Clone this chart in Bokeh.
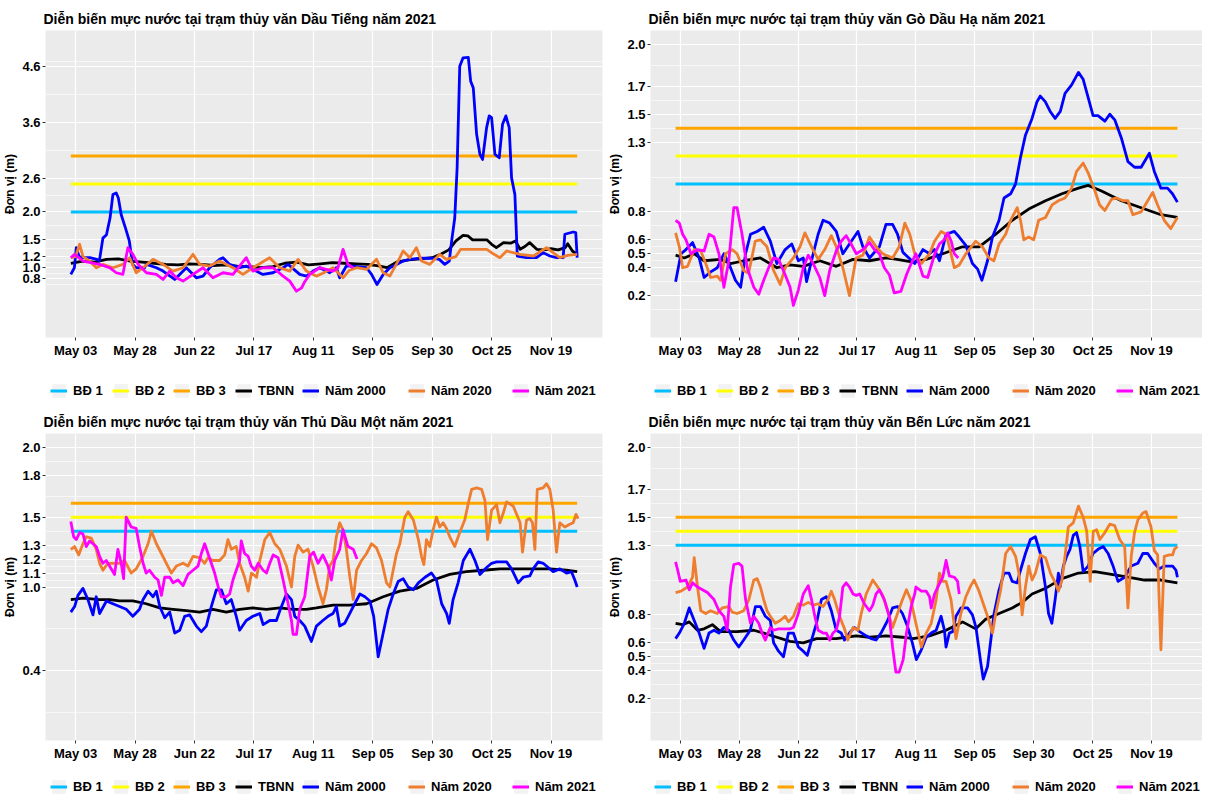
import numpy as np
import pandas as pd
from bokeh.plotting import figure
from bokeh.layouts import gridplot
from bokeh.models import Range1d, FixedTicker, DatetimeTickFormatter, Legend, LegendItem, PrintfTickFormatter
from bokeh.embed import file_html
from bokeh.resources import INLINE

# ---------------- data ----------------
START_DATE = "2021-05-01"
END_DATE = "2021-11-30"
X_TICK_DATES = ["2021-05-03", "2021-05-28", "2021-06-22", "2021-07-17", "2021-08-11",
                "2021-09-05", "2021-09-30", "2021-10-25", "2021-11-19"]
LEGEND_LABELS = ["BĐ 1", "BĐ 2", "BĐ 3", "TBNN", "Năm 2000", "Năm 2020", "Năm 2021"]

TITLES = ["Diễn biến mực nước tại trạm thủy văn Dầu Tiếng năm 2021",
          "Diễn biến mực nước tại trạm thủy văn Gò Dầu Hạ năm 2021",
          "Diễn biến mực nước tại trạm thủy văn Thủ Dầu Một năm 2021",
          "Diễn biến mực nước tại trạm thủy văn Bến Lức năm 2021"]

# alarm levels (BĐ 1, BĐ 2, BĐ 3)
DT_BD = [2.0, 2.5, 3.0]
GDH_BD = [1.0, 1.2, 1.4]
TDM_BD = [1.4, 1.5, 1.6]
BL_BD = [1.3, 1.4, 1.5]

# y-axis breaks and limits
DT_YTICKS = [0.8, 1.0, 1.2, 1.5, 2.0, 2.6, 3.6, 4.6]
GDH_YTICKS = [0.2, 0.4, 0.5, 0.6, 0.8, 1.3, 1.5, 1.7, 2.0]
TDM_YTICKS = [0.4, 1.0, 1.1, 1.2, 1.3, 1.5, 1.8, 2.0]
BL_YTICKS = [0.2, 0.4, 0.5, 0.6, 0.8, 1.3, 1.5, 1.7, 2.0]
DT_YLIM = [0, 5]
GDH_YLIM = [0, 2]
TDM_YLIM = [0, 2]
BL_YLIM = [0, 2]

# series: (days after 1 May, water level m)
DT_TBNN = [(0,1.08),(5,1.12),(10,1.1),(15,1.15),(20,1.16),(25,1.12),(30,1.1),(35,1.08),(40,1.06),(45,1.05),(50,1.07),(55,1.06),(60,1.04),(65,1.05),(70,1.03),(75,1.02),(80,1.0),(85,1.02),(90,1.08),(95,1.1),(100,1.05),(105,1.07),(110,1.09),(115,1.08),(120,1.07),(125,1.06),(130,1.03),(133,1.0),(137,1.1),(142,1.14),(147,1.16),(152,1.18),(156,1.25),(159,1.32),(162,1.48),(165,1.58),(167,1.57),(169,1.5),(172,1.5),(175,1.5),(177,1.42),(179,1.36),(182,1.45),(185,1.44),(187,1.48),(189,1.33),(191,1.38),(193,1.45),(196,1.33),(199,1.32),(202,1.34),(205,1.32),(208,1.36),(209,1.43),(211,1.3),(213,1.24)]
DT_2000 = [(0,0.88),(1.5,1.0),(2.3,1.36),(3.5,1.2),(5,1.18),(8,1.18),(11,1.15),(12,1.12),(13.5,1.53),(15,1.59),(16.5,1.89),(17.7,2.31),(19.1,2.34),(20,2.25),(21.2,1.95),(23,1.71),(24.6,1.48),(26,1.06),(27.5,1.0),(31,1.0),(31.8,1.06),(36,1.0),(38.8,0.94),(43.7,0.79),(45.8,0.88),(48.6,1.0),(52.8,0.82),(55.6,0.85),(58.4,1.0),(62.6,1.15),(64,1.18),(66.8,1.06),(71,1.0),(73.8,1.03),(80.8,0.88),(85,0.91),(89.3,1.0),(91.4,1.06),(96.3,0.88),(99.1,0.85),(101.9,0.94),(104.7,1.0),(108.9,0.91),(111.7,1.0),(113.1,0.82),(115.9,1.03),(118.7,1.03),(124.4,1.0),(126.5,0.88),(128.8,0.7),(131.4,0.88),(134.2,1.0),(137,1.06),(139.8,1.12),(142.6,1.15),(146.8,1.17),(152.4,1.17),(155,1.15),(157.3,1.06),(159.2,1.12),(160.2,1.48),(161.5,1.89),(162.5,2.79),(163.6,4.61),(165,4.76),(167.2,4.77),(168.2,4.34),(169.3,4.22),(170.7,3.39),(172.1,3.03),(173.2,2.94),(174.9,3.51),(176,3.72),(177,3.69),(178.4,3.03),(180.2,2.97),(181.6,3.57),(183,3.72),(184.4,3.51),(185.4,2.61),(186.8,2.31),(187.8,1.21),(191.7,1.18),(195.9,1.18),(198.7,1.27),(201.5,1.21),(204.3,1.18),(207.1,1.18),(207.8,1.6),(211.3,1.64),(212.4,1.63),(213,1.18)]
DT_2020 = [(0,1.18),(2,1.2),(3.7,1.42),(5.1,1.2),(7.9,1.12),(10.7,1.0),(13.5,1.06),(17.7,1.0),(21.9,1.06),(24.7,1.18),(27.5,0.91),(30.4,1.0),(34.6,1.15),(38.8,1.06),(43,0.94),(47.2,1.0),(51.4,1.24),(54.2,1.06),(58.4,1.03),(62.6,1.12),(68.2,1.0),(72.4,0.88),(76.6,1.0),(83.6,1.18),(87.9,1.0),(92.1,0.94),(95.6,1.15),(99.1,0.94),(101.9,0.88),(103.3,0.85),(106,0.9),(110.3,1.0),(114.5,0.82),(117,0.95),(120.2,1.0),(124.4,0.97),(128.6,1.15),(131.4,0.91),(134.2,0.85),(138.4,1.18),(139.8,1.3),(142.6,1.18),(145.4,1.36),(147.5,1.12),(151,1.06),(155.2,1.24),(158,1.15),(162,1.2),(164,1.33),(170,1.33),(175,1.33),(178,1.24),(180.5,1.18),(183.3,1.3),(189,1.24),(194.6,1.21),(200.1,1.36),(205.7,1.18),(209,1.22),(213,1.24)]
DT_2021 = [(0,1.18),(1.6,1.24),(5.1,1.12),(12.1,1.06),(16.3,1.0),(19.1,0.91),(21.9,0.88),(24,1.36),(26.1,1.24),(28.3,1.06),(31.8,0.91),(36,0.88),(38.8,0.79),(41.6,0.94),(44.4,0.82),(47.2,0.76),(51.4,0.88),(55.6,1.0),(59.8,0.82),(64,0.91),(68.2,0.88),(73.8,1.18),(76.6,0.94),(80.9,1.0),(85.1,1.0),(89.3,0.85),(92.1,0.76),(94.9,0.58),(97.1,0.64),(98.4,0.75),(100.5,0.88),(104.7,1.0),(110.3,0.94),(112.4,1.0),(114.5,1.33),(116.6,1.06),(118.7,1.0)]

GDH_TBNN = [(0,0.49),(3.7,0.47),(8,0.5),(12.1,0.45),(19.1,0.46),(23.3,0.43),(29,0.45),(36,0.47),(43,0.4),(48.6,0.42),(54.2,0.41),(61.2,0.45),(68.2,0.41),(75.3,0.46),(82.3,0.45),(89.3,0.47),(94,0.46),(100.8,0.44),(106.4,0.46),(113.4,0.5),(121.8,0.55),(128.8,0.55),(135.9,0.64),(142.9,0.74),(149.9,0.82),(157,0.88),(164,0.93),(171,0.97),(175.1,0.99),(180.8,0.95),(189.2,0.88),(197.6,0.83),(206,0.78),(213,0.76)]
GDH_2000 = [(0,0.3),(2.3,0.5),(4.4,0.53),(7.2,0.58),(10,0.47),(12.1,0.33),(14.9,0.37),(17.7,0.4),(20.5,0.5),(22.6,0.43),(25.4,0.31),(27.6,0.26),(29.7,0.5),(31.8,0.64),(34.6,0.66),(37.4,0.69),(40.2,0.59),(43,0.43),(46.5,0.53),(49.3,0.57),(52.1,0.45),(54.2,0.47),(55.6,0.3),(58.4,0.5),(60.5,0.64),(62.6,0.74),(65.4,0.72),(68.2,0.66),(71,0.5),(73.8,0.57),(77.4,0.66),(79.5,0.55),(82.3,0.47),(86.5,0.55),(89.3,0.71),(92.1,0.71),(94.2,0.64),(96.5,0.51),(101.5,0.43),(105,0.53),(107.8,0.5),(109.9,0.53),(112,0.45),(114.8,0.64),(118.3,0.66),(120.4,0.62),(123.2,0.56),(126,0.43),(128.2,0.39),(130,0.31),(132.4,0.45),(134.5,0.62),(137.3,0.74),(139.4,0.9),(142.2,0.93),(144.3,1.0),(146.4,1.19),(148.5,1.35),(151.3,1.47),(153.4,1.59),(154.8,1.63),(156.9,1.59),(159,1.52),(161.1,1.47),(163.3,1.52),(165.3,1.65),(168.1,1.71),(171,1.8),(173,1.75),(175.1,1.62),(177.2,1.49),(179.3,1.49),(182.2,1.45),(184.3,1.5),(186.4,1.46),(189.2,1.33),(192,1.16),(194.8,1.12),(197.6,1.12),(201.1,1.22),(203.2,1.09),(206,0.97),(208.8,0.97),(210.9,0.93),(213,0.87)]
GDH_2020 = [(0,0.65),(1.6,0.55),(3,0.4),(5.1,0.41),(7.9,0.53),(10.7,0.52),(12.8,0.43),(14.9,0.33),(17.7,0.34),(19.1,0.31),(21.2,0.5),(24,0.53),(26.1,0.5),(28.9,0.38),(31,0.36),(33.8,0.59),(36,0.6),(38.8,0.55),(41.6,0.38),(44.4,0.28),(46.5,0.4),(50,0.47),(52.8,0.55),(54.9,0.65),(57.7,0.55),(60.5,0.46),(63.3,0.53),(66.1,0.63),(68.2,0.55),(71,0.4),(73.8,0.2),(76.6,0.47),(79.5,0.49),(82.3,0.62),(85.1,0.55),(87.9,0.5),(92.1,0.47),(94.9,0.55),(97.3,0.72),(99.4,0.64),(101.5,0.5),(104.3,0.43),(107.8,0.5),(109.9,0.59),(112.7,0.66),(114.8,0.64),(116.2,0.55),(118.3,0.4),(120.4,0.42),(123.2,0.5),(127.4,0.59),(130.2,0.55),(133,0.47),(135.1,0.45),(137.3,0.57),(140.1,0.64),(142.2,0.74),(145,0.83),(146.4,0.74),(147.8,0.6),(149.9,0.62),(152,0.6),(154.1,0.74),(157,0.76),(159.8,0.85),(162.5,0.88),(165.3,0.9),(168.1,0.97),(170.2,1.09),(173,1.15),(175.1,1.08),(178,0.95),(180,0.85),(182.2,0.81),(185,0.89),(187.1,0.9),(189.9,0.88),(192,0.88),(194.1,0.78),(197.6,0.8),(200.4,0.88),(202.5,0.94),(204.6,0.85),(207.4,0.74),(210.2,0.68),(213,0.76)]
GDH_2021 = [(0,0.74),(1.6,0.72),(3,0.64),(4.4,0.6),(6.5,0.5),(9.3,0.53),(12.1,0.52),(14.2,0.64),(16.3,0.62),(18.4,0.5),(20.5,0.26),(22.6,0.45),(24.7,0.83),(26.1,0.83),(28.2,0.64),(30.4,0.4),(33.2,0.26),(35.3,0.21),(37.4,0.31),(39.5,0.4),(41.6,0.47),(43.7,0.46),(46.5,0.35),(48.6,0.26),(50,0.13),(52.1,0.24),(54.2,0.4),(56.3,0.49),(58.4,0.43),(61.2,0.33),(63.3,0.2),(65.4,0.38),(68.2,0.52),(70.3,0.59),(72.4,0.63),(74.5,0.57),(76.7,0.5),(79.5,0.53),(82.3,0.58),(84.4,0.53),(86.5,0.5),(88.6,0.4),(90.7,0.35),(92.8,0.22),(95.6,0.23),(98,0.35),(100,0.43),(102,0.5),(105,0.34),(107,0.33),(110,0.5),(112,0.57),(114,0.6),(115.5,0.65),(117,0.59),(118.3,0.5),(120,0.47)]

TDM_TBNN = [(0,0.91),(5.1,0.92),(12.1,0.91),(16.3,0.91),(20.5,0.9),(26.1,0.9),(31.7,0.88),(37.4,0.85),(43,0.84),(48.6,0.83),(54.2,0.82),(59.8,0.84),(65.4,0.82),(71,0.84),(76.6,0.85),(82.3,0.84),(87.9,0.85),(93.5,0.84),(99.1,0.84),(103.3,0.85),(110.3,0.87),(117.3,0.87),(124.4,0.88),(131.4,0.93),(138.4,0.97),(145.4,0.99),(152.4,1.05),(159.4,1.09),(166.4,1.11),(173.5,1.12),(180.5,1.13),(187.5,1.13),(194.5,1.13),(201.5,1.13),(208.5,1.12),(213,1.11)]
TDM_2000 = [(0,0.82),(1.6,0.86),(3,0.94),(5.1,0.99),(7.2,0.91),(9.3,0.8),(10.7,0.93),(12.1,0.81),(15,0.9),(17.7,0.88),(20.5,0.86),(23.3,0.84),(26.1,0.79),(28.9,0.84),(30.4,0.91),(32.5,0.97),(34.6,0.93),(36,0.97),(37.4,0.86),(39.5,0.78),(41.6,0.82),(43.7,0.67),(45.8,0.69),(47.9,0.79),(50,0.8),(52.8,0.72),(54.9,0.68),(57,0.72),(59.1,0.86),(61.2,0.98),(63.3,0.98),(65.4,0.88),(67.5,0.91),(69.6,0.79),(71,0.69),(73.8,0.76),(76.6,0.79),(79.5,0.81),(80.9,0.73),(83.7,0.76),(86.5,0.76),(87.9,0.83),(90.7,0.95),(92.8,0.91),(94.2,0.79),(96.3,0.76),(98.4,0.72),(101.2,0.61),(103.3,0.72),(106,0.76),(108.2,0.79),(110.3,0.81),(111.7,0.86),(113.1,0.72),(115.2,0.74),(117.3,0.81),(119.4,0.88),(121.6,0.95),(123.7,0.93),(125.8,0.9),(127.4,0.79),(129.3,0.5),(131.4,0.67),(133.5,0.84),(135.6,0.95),(137.7,1.04),(139.8,1.06),(141.9,1.0),(144.1,0.98),(146.2,1.03),(149,1.07),(151.7,1.1),(153.8,1.05),(156,0.88),(158.1,0.81),(159.2,0.74),(160.8,0.91),(162.9,1.03),(165.1,1.19),(167.9,1.27),(170,1.19),(172.1,1.09),(174.9,1.14),(177,1.17),(179.1,1.18),(183.3,1.18),(185.4,1.13),(188.2,1.03),(190.3,1.07),(193.1,1.08),(194.5,1.13),(196.6,1.18),(198.7,1.17),(200.8,1.14),(202.9,1.11),(205.7,1.13),(208.5,1.1),(210.6,1.11),(212,1.05),(213,1.0)]
TDM_2020 = [(0,1.27),(1.6,1.29),(3.3,1.23),(5.1,1.31),(6.5,1.36),(8.6,1.35),(10.7,1.27),(12.1,1.17),(13.5,1.12),(15.6,1.17),(17.7,1.17),(20.5,1.17),(22.6,1.19),(25.4,1.1),(27.5,1.13),(30.4,1.22),(32.5,1.31),(33.9,1.4),(36,1.31),(38.1,1.24),(40.2,1.17),(42.3,1.1),(44.4,1.15),(47.2,1.17),(49.3,1.15),(51.4,1.22),(54.2,1.21),(56.3,1.17),(57.7,1.21),(59.8,1.19),(62.6,1.19),(64.7,1.23),(66.1,1.34),(67.5,1.27),(69.6,1.29),(71,1.17),(73.1,1.07),(74.6,0.97),(76,1.1),(78.1,1.07),(79.5,1.19),(81.6,1.34),(83.7,1.39),(85.8,1.31),(87.9,1.27),(90.7,1.15),(92.8,1.0),(94.2,1.22),(95.6,1.3),(97.7,1.25),(99.8,1.27),(101.9,1.15),(104,1.0),(106.1,0.88),(107.5,0.98),(108.9,1.15),(110.3,1.19),(111.7,1.36),(113.1,1.46),(114.5,1.41),(115.9,1.27),(117.3,1.08),(118.8,0.91),(120.2,1.12),(122.3,1.19),(124.4,1.24),(126.5,1.31),(128.6,1.28),(130.7,1.19),(132.8,1.03),(134.2,1.0),(135.6,1.12),(137,1.24),(138.4,1.31),(140.5,1.5),(141.9,1.54),(144.1,1.48),(146.2,1.34),(147.5,1.22),(148.5,1.16),(149.6,1.34),(151,1.29),(152.4,1.41),(153.8,1.5),(155.2,1.43),(156.6,1.46),(158,1.42),(159.4,1.36),(161.5,1.29),(163.6,1.39),(165.7,1.48),(167.2,1.6),(168.6,1.7),(170.7,1.71),(172.8,1.7),(174.2,1.62),(175.3,1.34),(177,1.55),(179.1,1.59),(180.5,1.46),(181.9,1.53),(183.3,1.61),(186.1,1.58),(189,1.46),(190,1.25),(191.7,1.48),(193.1,1.49),(194.2,1.46),(195.2,1.27),(196.2,1.7),(198.7,1.71),(200.1,1.74),(201.5,1.7),(202.9,1.55),(204.3,1.25),(205.7,1.46),(207.8,1.43),(209.9,1.45),(211.3,1.46),(212.5,1.52),(213.4,1.49)]
TDM_2021 = [(0,1.47),(1.2,1.36),(2.3,1.34),(3.7,1.39),(5.1,1.38),(6.5,1.29),(7.9,1.33),(9.3,1.31),(10.7,1.29),(12.1,1.22),(13.5,1.17),(14.9,1.19),(16.3,1.15),(18.4,1.09),(19.8,1.27),(21.2,1.17),(22.2,1.06),(23.3,1.5),(25.4,1.43),(27.5,1.42),(28.9,1.29),(30.4,1.17),(31.7,1.1),(33.1,1.12),(35.3,1.07),(36.7,1.05),(38.1,0.94),(39.5,1.07),(41.6,1.07),(43,1.03),(45.1,1.05),(47.2,1.01),(49.3,1.09),(51.4,1.12),(53.5,1.15),(54.9,1.24),(56.3,1.31),(57.7,1.24),(59.1,1.17),(60.5,1.1),(62,1.0),(63.3,0.93),(65.4,0.93),(66.8,0.95),(68.2,1.05),(69.6,1.12),(71,1.19),(71.7,1.33),(73.1,1.24),(74.6,1.22),(75.9,1.15),(77.4,1.12),(78.8,1.17),(80.9,1.12),(82.3,1.1),(83.7,1.17),(85.1,1.23),(87.2,1.21),(89.3,1.05),(91.4,0.88),(92.8,0.76),(93.5,0.66),(94.9,0.66),(96.3,0.84),(98.4,0.93),(100.5,1.22),(102.1,1.25),(104,1.17),(106,1.23),(108.2,1.15),(109.6,1.05),(111,1.19),(113.1,1.27),(114.5,1.41),(116.6,1.29),(118.8,1.27),(120.4,1.2)]

BL_TBNN = [(0,0.74),(3,0.73),(5.8,0.75),(9.3,0.69),(12.1,0.7),(15.6,0.73),(19.1,0.68),(26.1,0.68),(33.2,0.69),(37.4,0.67),(43,0.64),(48.6,0.61),(54.2,0.6),(59.8,0.63),(68.2,0.63),(76.6,0.65),(82.3,0.64),(89.3,0.65),(96.3,0.64),(100.8,0.63),(107.8,0.65),(114.8,0.69),(121.8,0.75),(127.4,0.7),(131.7,0.77),(137.3,0.81),(142.9,0.85),(147.1,0.89),(151.3,0.95),(157,0.99),(164,1.06),(171,1.1),(178,1.11),(185,1.09),(192,1.07),(199,1.05),(206,1.05),(213,1.03)]
BL_2000 = [(0,0.63),(1.6,0.67),(3.7,0.74),(5.8,0.85),(7.9,0.76),(10,0.67),(12.1,0.56),(14.2,0.67),(16.3,0.69),(18.4,0.67),(20.5,0.71),(22.6,0.69),(24.7,0.62),(26.8,0.57),(28.9,0.62),(31.7,0.69),(33.9,0.86),(36,0.86),(38.1,0.79),(40.2,0.76),(41.6,0.6),(43.7,0.54),(45.8,0.5),(47.9,0.67),(50,0.67),(52.1,0.57),(54.2,0.54),(55.9,0.51),(57.7,0.62),(59.8,0.74),(61.9,0.91),(64,0.93),(66.1,0.83),(68.2,0.69),(70.3,0.67),(71.7,0.62),(73.8,0.67),(75.9,0.71),(78.1,0.68),(80.9,0.65),(83,0.63),(85.1,0.62),(87.2,0.67),(90,0.76),(92.1,0.85),(94.2,0.86),(96.3,0.81),(98.4,0.72),(100.5,0.6),(102.2,0.48),(104.3,0.55),(106.4,0.64),(108.5,0.67),(110.6,0.69),(112.7,0.79),(114.1,0.69),(114.8,0.57),(116.2,0.67),(117.6,0.68),(119,0.79),(121.1,0.85),(123.9,0.85),(126,0.8),(127.5,0.71),(129.6,0.45),(130.6,0.34),(132.4,0.43),(133.8,0.62),(135.2,0.81),(137.3,0.98),(139.4,1.1),(141.5,1.1),(142.9,1.04),(145,1.03),(146.4,1.12),(148.5,1.24),(150.6,1.34),(152.7,1.36),(154.8,1.24),(157,1.0),(158.3,0.81),(159.7,0.74),(161.1,0.91),(162.5,1.1),(163.2,1.0),(164.6,1.15),(166,1.22),(167.4,1.27),(168.8,1.37),(170.2,1.39),(171.6,1.29),(173,1.11),(175.1,1.15),(177.2,1.24),(179.3,1.27),(181.5,1.29),(183.6,1.24),(185.7,1.15),(187.8,1.04),(190.6,1.07),(193.4,1.15),(196.2,1.17),(198.3,1.24),(200.4,1.24),(203.2,1.17),(205.3,1.13),(207.4,1.15),(209.6,1.15),(211,1.15),(212.4,1.12),(213,1.07)]
BL_2020 = [(0,0.96),(2.3,0.97),(5.1,1.0),(7.2,1.07),(7.9,1.21),(9.3,1.0),(10.7,0.83),(12.8,0.81),(14.9,0.83),(17.7,0.81),(19.8,0.85),(22.6,0.86),(24,0.82),(26.1,0.81),(28.9,0.83),(31.1,0.91),(33.2,1.05),(34.6,1.06),(36,1.0),(37.4,0.91),(38.8,0.83),(40.2,0.79),(42.3,0.74),(44.4,0.76),(46.5,0.79),(47.9,0.75),(50,0.79),(52.1,0.88),(54.2,0.87),(56.3,0.89),(58.4,0.87),(60.5,0.88),(62.6,0.86),(64.7,0.91),(66.1,0.97),(67.5,0.91),(69.6,0.79),(71.7,0.7),(73.1,0.62),(75.3,0.71),(77.4,0.69),(78.8,0.81),(80.9,0.95),(83.7,1.05),(85.8,1.0),(87.9,0.94),(90,0.83),(92.1,0.71),(94.2,0.81),(96.3,0.91),(98,0.98),(99.8,0.91),(102,0.74),(104.3,0.57),(106.4,0.67),(108.5,0.74),(110.6,0.91),(112,1.1),(113.4,1.04),(114.8,1.04),(116.9,0.91),(119,0.63),(121.1,0.81),(123.2,0.93),(125.3,1.01),(126.7,1.05),(128.8,0.97),(131,0.86),(133,0.76),(134.5,0.67),(135.9,0.81),(138,0.98),(140.1,1.24),(142.2,1.29),(144.3,1.22),(145.7,1.1),(147.1,0.8),(148.5,1.0),(149.9,1.15),(151.3,1.05),(152.7,1.1),(154.8,1.23),(157,1.21),(159.1,1.1),(161.2,1.03),(162.5,0.97),(164,1.05),(165.3,1.22),(166.7,1.43),(168.8,1.46),(171,1.58),(173,1.5),(174.5,1.4),(176,1.04),(177.3,1.4),(178.7,1.41),(180.1,1.34),(182.2,1.39),(184.3,1.45),(186.4,1.44),(188.5,1.34),(190.6,1.29),(192,0.85),(193.4,1.22),(194.8,1.39),(196.2,1.48),(198.3,1.53),(199.7,1.54),(201.8,1.43),(203.2,1.26),(204.6,1.23),(206,0.55),(207.4,1.22),(209.6,1.23),(211,1.23),(211.7,1.27),(213,1.29)]
BL_2021 = [(0,1.18),(0.9,1.12),(2,1.04),(4.4,1.05),(5.8,0.98),(7.2,1.03),(9.3,1.0),(11.4,0.98),(13.5,0.96),(16.3,0.91),(18.4,0.83),(20.5,0.79),(21.9,0.69),(23.3,1.0),(24.7,1.16),(26.8,1.17),(28.2,1.15),(29.7,0.91),(31.8,0.74),(33.2,0.79),(35.3,0.74),(36.7,0.67),(38.1,0.62),(40.2,0.71),(41.6,0.69),(43.7,0.7),(46.5,0.7),(48.6,0.7),(50,0.71),(52.1,0.81),(54.2,0.95),(56.3,1.01),(57.7,0.91),(59.1,0.79),(60.5,0.69),(62.6,0.67),(64,0.67),(65.4,0.62),(66.8,0.67),(68.2,0.69),(69.6,0.79),(71,1.0),(72.4,1.03),(73.8,1.0),(75.3,0.95),(76.7,0.94),(78.1,0.95),(80.1,0.88),(82.3,0.83),(83.7,0.87),(85.1,0.95),(86.5,0.98),(88.6,0.91),(90.7,0.79),(92.1,0.57),(93.5,0.39),(94.9,0.39),(96.6,0.48),(98,0.67),(100,0.86),(101.5,0.95),(102,1.0),(104.3,0.97),(106.4,0.97),(107.8,0.93),(108.5,0.85),(109.9,0.95),(111.3,1.0),(113.4,1.07),(114.8,1.19),(116.2,1.08),(118.3,1.07),(119.7,1.04),(120.4,0.95)]

# ---------------- styling ----------------
FONT = "Liberation Sans"
COLORS = ["#00BFFF", "#FFFF00", "#FFA500", "#000000", "#0000FF", "#EE7D2F", "#FF00FF"]
BG = "#EBEBEB"
KEY_OFFSETS = [4, 66, 127, 189, 256, 362, 466]   # legend key positions from the panel's plot-area edge (px)


def ms(ts):
    return pd.Timestamp(ts).value / 1e6


DAY_MS = 86400000.0
X0, X1 = ms(START_DATE), ms(END_DATE)
XPAD = 0.05 * (X1 - X0)


def xy(series):
    d = np.array([s[0] for s in series], dtype=float)
    v = np.array([s[1] for s in series], dtype=float)
    return X0 + d * DAY_MS, v


def minor_breaks(b, lo, hi):
    b = list(b)
    step = b[1] - b[0]
    if lo < b[0]:
        b = [b[0] - step] + b
    if hi > b[-1]:
        b = b + [b[-1] + step]
    return [(a + c) / 2 for a, c in zip(b[:-1], b[1:])]


def borders(left):
    return dict(frame_width=557 if left else 552,
                min_border_left=38 if left else 46,
                min_border_right=2 if left else 0)


def make_panel(title, bd, yticks, ylim, tbnn, s2000, s2020, s2021, left):
    span = ylim[1] - ylim[0]
    y0, y1 = ylim[0] - 0.05 * span, ylim[1] + 0.05 * span
    p = figure(x_axis_type="datetime",
               x_range=Range1d(X0 - XPAD, X1 + XPAD), y_range=Range1d(y0, y1),
               frame_height=307, min_border_top=30, min_border_bottom=25,
               output_backend="svg", toolbar_location=None, title=title, **borders(left))
    p.background_fill_color = BG
    p.border_fill_color = "white"
    p.outline_line_color = None

    p.title.text_font = FONT
    p.title.text_font_size = "14px"
    p.title.text_font_style = "bold"
    p.title.text_color = "black"
    p.title.align = "left"
    p.title.standoff = 7
    p.title.offset = -2

    p.xaxis.ticker = FixedTicker(ticks=[ms(t) for t in X_TICK_DATES])
    fmt = "%b %d"
    p.xaxis.formatter = DatetimeTickFormatter(microseconds=fmt, milliseconds=fmt, seconds=fmt,
                                              minsec=fmt, minutes=fmt, hourmin=fmt, hours=fmt,
                                              days=fmt, months=fmt, years=fmt)
    p.yaxis.ticker = FixedTicker(ticks=yticks, minor_ticks=minor_breaks(yticks, y0, y1))
    p.yaxis.formatter = PrintfTickFormatter(format="%.1f")
    p.yaxis.axis_label = "Đơn vị (m)"
    p.yaxis.axis_label_text_font = FONT
    p.yaxis.axis_label_text_font_size = "12px"
    p.yaxis.axis_label_text_font_style = "bold"
    p.yaxis.axis_label_text_color = "black"
    p.yaxis.axis_label_standoff = 2
    for ax in (p.xaxis[0], p.yaxis[0]):
        ax.axis_line_color = None
        ax.major_tick_line_color = "#333333"
        ax.major_tick_out = 3
        ax.major_tick_in = 0
        ax.minor_tick_line_color = None
        ax.major_label_text_font = FONT
        ax.major_label_text_font_size = "13px"
        ax.major_label_text_font_style = "bold"
        ax.major_label_text_color = "black"
    p.xaxis.major_label_standoff = 2
    p.yaxis.major_label_standoff = 1

    p.xgrid.grid_line_color = "white"
    p.xgrid.grid_line_width = 1.2
    p.ygrid.grid_line_color = "white"
    p.ygrid.grid_line_width = 1.2
    p.ygrid.minor_grid_line_color = "white"
    p.ygrid.minor_grid_line_width = 0.6

    for lvl, col in zip(bd, COLORS[:3]):
        p.line(x=[X0, X1], y=[lvl, lvl], line_color=col, line_width=3)
    for series, col in zip([tbnn, s2000, s2020, s2021], COLORS[3:]):
        xs, ys = xy(series)
        p.line(x=xs, y=ys, line_color=col, line_width=2.8, line_join="round")
    return p


def make_legend(left, height, vy):
    # legend strip: frame covers the whole canvas
    base = 46
    lf = figure(x_range=Range1d(0, 1), y_range=Range1d(0, 1),
                frame_width=597 if left else 598, frame_height=height,
                min_border_left=0, min_border_right=0, min_border_top=0, min_border_bottom=0,
                x_axis_location=None, y_axis_location=None,
                output_backend="svg", toolbar_location=None)
    lf.outline_line_color = None
    lf.background_fill_color = "white"
    lf.border_fill_color = "white"
    lf.grid.visible = False
    key = lf.quad(left=[np.nan], right=[np.nan], top=[np.nan], bottom=[np.nan],
                  fill_color="#F2F2F2", line_color=None)
    rends = [lf.line(x=[np.nan], y=[np.nan], line_color=c, line_width=3) for c in COLORS]
    for lab, r, off in zip(LEGEND_LABELS, rends, KEY_OFFSETS):
        leg = Legend(items=[LegendItem(label=lab, renderers=[key, r])],
                     orientation="horizontal", location=(base + off, vy),
                     margin=0, padding=0, spacing=0,
                     glyph_width=17, glyph_height=17, label_height=17, label_standoff=6,
                     label_text_font=FONT, label_text_font_size="13px",
                     label_text_font_style="bold", label_text_color="black",
                     border_line_color=None, background_fill_alpha=0)
        lf.add_layout(leg, "center")
    return lf


p1 = make_panel(TITLES[0], DT_BD, DT_YTICKS, DT_YLIM, DT_TBNN, DT_2000, DT_2020, DT_2021, True)
p2 = make_panel(TITLES[1], GDH_BD, GDH_YTICKS, GDH_YLIM, GDH_TBNN, GDH_2000, GDH_2020, GDH_2021, False)
p3 = make_panel(TITLES[2], TDM_BD, TDM_YTICKS, TDM_YLIM, TDM_TBNN, TDM_2000, TDM_2020, TDM_2021, True)
p4 = make_panel(TITLES[3], BL_BD, BL_YTICKS, BL_YLIM, BL_TBNN, BL_2000, BL_2020, BL_2021, False)
l1, l2 = make_legend(True, 41, 4), make_legend(False, 41, 4)
l3, l4 = make_legend(True, 30, 0), make_legend(False, 30, 0)

grid = gridplot([[p1, p2], [l1, l2], [p3, p4], [l3, l4]], toolbar_location=None)

open("out.html", "w").write(file_html(grid, INLINE))
